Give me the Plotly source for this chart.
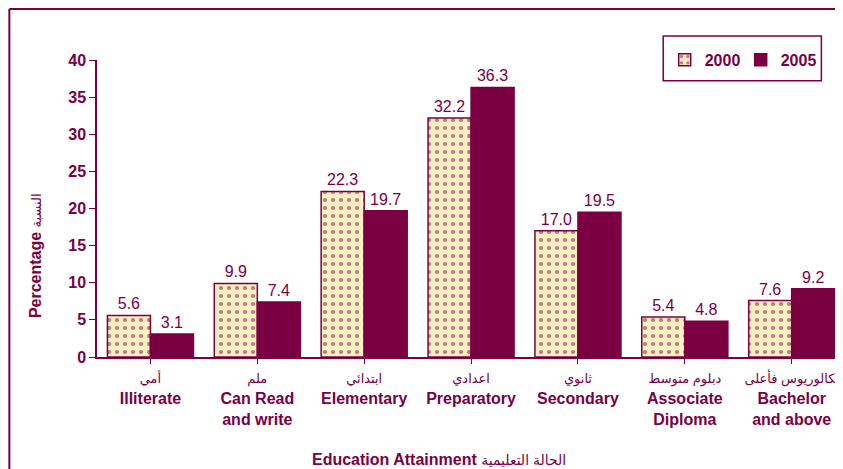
import plotly.graph_objects as go

# --- data ---
cats_ar = ["أمي", "ملم", "ابتدائي", "اعدادي", "ثانوي", "دبلوم متوسط", "بكالوريوس فأعلى"]
cats_en = ["Illiterate", "Can Read<br>and write", "Elementary", "Preparatory",
           "Secondary", "Associate<br>Diploma", "Bachelor<br>and above"]
vals_2000 = [5.6, 9.9, 22.3, 32.2, 17.0, 5.4, 7.6]
vals_2005 = [3.1, 7.4, 19.7, 36.3, 19.5, 4.8, 9.2]
series_names = ["2000", "2005"]

MAROON = "#7a0042"
CREAM = "#fff0c2"
FONT = "Liberation Sans, Arial, DejaVu Sans, sans-serif"

xs = list(range(len(cats_en)))
ticktext = [f"<span style='font-size:13px;font-weight:normal'>{a}</span><br><b>{e}</b>"
            for a, e in zip(cats_ar, cats_en)]

fig = go.Figure()
fig.add_trace(go.Bar(
    x=xs, y=vals_2000, name=series_names[0],
    marker=dict(color=CREAM, line=dict(color=MAROON, width=1.5),
                pattern=dict(shape=".", fgcolor=MAROON, bgcolor=CREAM,
                             size=8, solidity=0.22, fillmode="overlay")),
    text=[f"{v:.1f}" for v in vals_2000], textposition="outside",
    textfont=dict(size=16, color=MAROON, family=FONT), cliponaxis=False,
))
fig.add_trace(go.Bar(
    x=xs, y=vals_2005, name=series_names[1],
    marker=dict(color=MAROON, line=dict(color=MAROON, width=1.5)),
    text=[f"{v:.1f}" for v in vals_2005], textposition="outside",
    textfont=dict(size=16, color=MAROON, family=FONT), cliponaxis=False,
))

# page body has an 8px margin, so the figure is sized to fit the window
fig.update_layout(
    width=835, height=461,
    margin=dict(l=89, r=0, t=52, b=112, autoexpand=False),
    paper_bgcolor="white", plot_bgcolor="white",
    barmode="group", bargap=0.195, bargroupgap=0,
    font=dict(family=FONT, color=MAROON, size=16),
    showlegend=True,
    legend=dict(orientation="h", x=0.761, y=1.058, xanchor="left", yanchor="top",
                bgcolor="rgba(0,0,0,0)", borderwidth=0,
                font=dict(size=16, color=MAROON, family=FONT, weight="bold"),
                entrywidth=31, itemwidth=30),
)

fig.update_xaxes(
    range=[-0.5, 6.48], tickmode="array", tickvals=xs, ticktext=ticktext,
    tickson="boundaries", ticks="outside", ticklen=5, tickcolor=MAROON,
    showline=True, linecolor=MAROON, linewidth=1.5, showgrid=False,
    tickfont=dict(size=16, color=MAROON, family=FONT), tickangle=0,
)
fig.update_yaxes(
    range=[0, 40], dtick=5, ticks="outside", ticklen=6, tickcolor=MAROON,
    showline=True, linecolor=MAROON, linewidth=1.5, showgrid=False, zeroline=False,
    tickfont=dict(size=16, color=MAROON, family=FONT, weight="bold"),
)

# axis titles
fig.add_annotation(text="<b>Percentage</b> <span style='font-size:13px'>النسبة</span>", textangle=-90,
                   xref="paper", yref="paper", x=-0.083, y=0.34, xanchor="center", yanchor="middle",
                   showarrow=False, font=dict(size=16, color=MAROON, family=FONT))
fig.add_annotation(text="<b>Education Attainment</b> <span style='font-size:14px'>الحالة التعليمية</span>",
                   xref="paper", yref="paper", x=0.458, y=-0.345, xanchor="center", yanchor="middle",
                   showarrow=False, font=dict(size=16, color=MAROON, family=FONT))

# legend box and chart frame
fig.add_shape(type="rect", xref="paper", yref="paper", x0=0.759, x1=0.971, y0=0.93, y1=1.081,
              line=dict(color=MAROON, width=1.5))
fig.add_shape(type="line", xref="paper", yref="paper", x0=-0.1175, x1=-0.1175, y0=1.172, y1=-0.5,
              line=dict(color=MAROON, width=2))
fig.add_shape(type="line", xref="paper", yref="paper", x0=-0.1175, x1=1.05, y0=1.172, y1=1.172,
              line=dict(color=MAROON, width=2))

fig.write_html("out.html")
